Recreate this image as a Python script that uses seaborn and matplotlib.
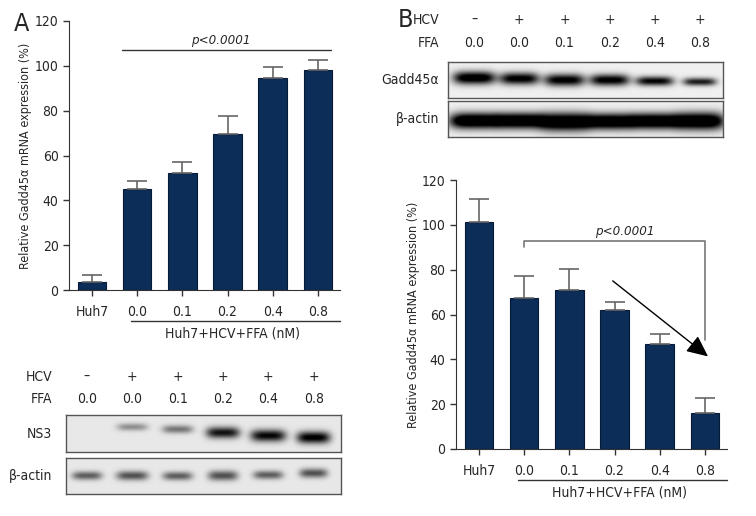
import numpy as np
import pandas as pd
import seaborn as sns
import matplotlib.pyplot as plt

sns.set_style('ticks')
plt.rcParams['font.family'] = ['DejaVu Sans']
plt.rcParams['font.stretch'] = 'condensed'

# 数据
groups = ['Huh7', '0.0', '0.1', '0.2', '0.4', '0.8']
a_mean = [3.6, 45.0, 52.4, 69.5, 94.4, 98.2]
a_err = [3.1, 3.8, 4.5, 8.3, 4.9, 4.2]
b_mean = [101.2, 67.2, 71.0, 62.2, 46.8, 15.9]
b_err = [10.2, 10.1, 9.5, 3.2, 4.7, 6.7]

hcv = ['–', '+', '+', '+', '+', '+']
ffa = ['0.0', '0.0', '0.1', '0.2', '0.4', '0.8']
# 条带强度 (0 = 无, 1 = 黑)
ns3_band = [0.0, 0.35, 0.45, 0.85, 0.9, 0.95]
actin_a_band = [0.55, 0.6, 0.55, 0.6, 0.55, 0.6]
gadd_band = [1.1, 1.0, 1.0, 1.0, 0.95, 0.85]
actin_b_band = [1.3, 1.3, 1.3, 1.3, 1.3, 1.3]

bar_color = '#0b2d57'
W, H = 756, 516

fig = plt.figure(figsize=(7.56, 5.16), dpi=100)


def box(l, t, w, h):
    return [l / W, 1 - (t + h) / H, w / W, h / H]


def bar_panel(ax, mean, err):
    df = pd.DataFrame({'group': groups, 'value': mean})
    sns.barplot(data=df, x='group', y='value', order=groups, color=bar_color,
                saturation=1, width=0.63, edgecolor='#061a36', linewidth=0.8,
                ax=ax)
    ax.errorbar(range(len(groups)), mean, yerr=[np.zeros(len(err)), err],
                fmt='none', ecolor='#666666', elinewidth=1.2, capsize=7,
                capthick=1.2, zorder=1)
    ax.set_xlim(-0.51, 5.49)
    ax.set_ylim(0, 120)
    ax.set_yticks(range(0, 121, 20))
    ax.set_xlabel('')
    ax.set_ylabel('Relative Gadd45α mRNA expression (%)', fontsize=9)
    ax.tick_params(axis='both', labelsize=10, length=4, width=1,
                   color='#333333', direction='out')
    ax.tick_params(axis='x', pad=7)
    for s in ['left', 'bottom']:
        ax.spines[s].set_color('#333333')
    sns.despine(ax=ax)
    tr = ax.get_xaxis_transform()
    ax.plot([0.86, 5.5], [-0.116, -0.116], transform=tr, color='#333333',
            lw=1, clip_on=False)
    ax.text(3.1, -0.135, 'Huh7+HCV+FFA (nM)', transform=tr, ha='center',
            va='top', fontsize=10)


# A 柱状图
axA = fig.add_axes(box(69, 21, 271, 269))
bar_panel(axA, a_mean, a_err)
axA.yaxis.set_label_coords(-0.135, 0.5)
axA.plot([0.66, 5.29], [107, 107], color='#333333', lw=1)
axA.text(2.84, 108.5, 'p<0.0001', style='italic', ha='center', va='bottom',
         fontsize=9.5)

# B 柱状图
axB = fig.add_axes(box(456, 180, 271, 269))
bar_panel(axB, b_mean, b_err)
axB.yaxis.set_label_coords(-0.133, 0.5)
axB.plot([1, 1, 5, 5], [90.3, 93, 93, 48.7], color='#777777', lw=1.2)
axB.text(3.22, 94, 'p<0.0001', style='italic', ha='center', va='bottom',
         fontsize=9.5)
axB.annotate('', xy=(5.07, 41.3), xytext=(2.96, 75),
             arrowprops=dict(arrowstyle='-|>,head_length=1.3,head_width=0.6',
                             color='black', lw=1, shrinkA=0, shrinkB=0))


def blot(rect, xlim, strength, yc, hh, hw, bg):
    ax = fig.add_axes(rect)
    nx, ny = 500, 90
    xs = np.linspace(xlim[0], xlim[1], nx)
    ys = np.linspace(0, 1, ny)
    X, Y = np.meshgrid(xs, ys)
    img = np.full(X.shape, bg)
    for i, s in enumerate(strength):
        img += s * np.exp(-((X - i) / hw[i]) ** 4) * np.exp(-((Y - yc[i]) / hh[i]) ** 2)
    ax.imshow(np.clip(img, 0, 1), cmap='gray_r', vmin=0, vmax=1,
              extent=(xlim[0], xlim[1], 0, 1), origin='lower', aspect='auto',
              interpolation='bilinear')
    ax.set_xlim(*xlim)
    ax.set_ylim(0, 1)
    ax.set_xticks([])
    ax.set_yticks([])
    for s in ax.spines.values():
        s.set_color('#555555')
        s.set_linewidth(1)
    return ax


# A 印迹
xlimA = (-0.46, 5.6)
ns3 = blot(box(66, 415, 275, 37), xlimA, ns3_band,
           [0.5, 0.66, 0.6, 0.51, 0.43, 0.38],
           [0.1, 0.1, 0.11, 0.15, 0.16, 0.16],
           [0.3, 0.34, 0.34, 0.37, 0.39, 0.37], 0.09)
actA = blot(box(66, 458, 275, 36), xlimA, actin_a_band,
            [0.51, 0.51, 0.5, 0.51, 0.53, 0.58],
            [0.12, 0.13, 0.12, 0.14, 0.12, 0.13],
            [0.33, 0.35, 0.33, 0.33, 0.33, 0.31], 0.09)
ns3.text(-0.05, 0.5, 'NS3', transform=ns3.transAxes, ha='right', va='center',
         fontsize=10)
actA.text(-0.05, 0.5, 'β-actin', transform=actA.transAxes, ha='right',
          va='center', fontsize=10)
tr = ns3.get_xaxis_transform()
for i in range(len(hcv)):
    ns3.text(i, 2.03, hcv[i], transform=tr, ha='center', va='center', fontsize=10)
    ns3.text(i, 1.43, ffa[i], transform=tr, ha='center', va='center', fontsize=10)
ns3.text(-0.05, 2.03, 'HCV', transform=ns3.transAxes, ha='right', va='center',
         fontsize=10)
ns3.text(-0.05, 1.43, 'FFA', transform=ns3.transAxes, ha='right', va='center',
         fontsize=10)

# B 印迹
xlimB = (-0.58, 5.51)
gadd = blot(box(448, 62, 275, 36), xlimB, gadd_band,
            [0.56, 0.54, 0.5, 0.5, 0.47, 0.45],
            [0.18, 0.17, 0.17, 0.16, 0.13, 0.11],
            [0.47, 0.44, 0.45, 0.44, 0.42, 0.37], 0.06)
actB = blot(box(448, 101, 275, 36), xlimB, actin_b_band,
            [0.45, 0.45, 0.42, 0.43, 0.44, 0.44],
            [0.22, 0.22, 0.25, 0.22, 0.22, 0.24],
            [0.55, 0.55, 0.55, 0.55, 0.55, 0.55], 0.06)
gadd.text(-0.033, 0.5, 'Gadd45α', transform=gadd.transAxes, ha='right',
          va='center', fontsize=10)
actB.text(-0.033, 0.5, 'β-actin', transform=actB.transAxes, ha='right',
          va='center', fontsize=10)
tr = gadd.get_xaxis_transform()
for i in range(len(hcv)):
    gadd.text(i, 2.17, hcv[i], transform=tr, ha='center', va='center', fontsize=10)
    gadd.text(i, 1.53, ffa[i], transform=tr, ha='center', va='center', fontsize=10)
gadd.text(-0.033, 2.17, 'HCV', transform=gadd.transAxes, ha='right',
          va='center', fontsize=10)
gadd.text(-0.033, 1.53, 'FFA', transform=gadd.transAxes, ha='right',
          va='center', fontsize=10)

fig.text(22 / W, 1 - 24 / H, 'A', ha='center', va='center', fontsize=18)
fig.text(405 / W, 1 - 20 / H, 'B', ha='center', va='center', fontsize=18)

fig.savefig('out.png', dpi=100)
